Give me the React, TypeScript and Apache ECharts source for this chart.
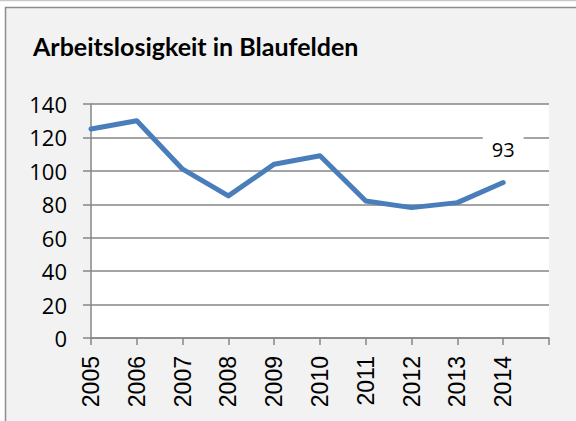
import React, { useEffect, useRef } from "react";
import * as echarts from "echarts";

const years = ["2005", "2006", "2007", "2008", "2009", "2010", "2011", "2012", "2013", "2014", ""];
const values = [125, 130, 101, 85, 104, 109, 82, 78, 81, 93];
const title = "Arbeitslosigkeit in Blaufelden";

export default function App() {
  const ref = useRef<HTMLDivElement>(null);
  useEffect(() => {
    if (!ref.current) return;
    const chart = echarts.init(ref.current, null, { renderer: "svg" });
    const gray = "#868686";
    const last = values.length - 1;
    chart.setOption({
      animation: false,
      backgroundColor: "#ffffff",
      graphic: [
        { type: "line", z: -100, shape: { x1: 0, y1: 0.5, x2: 576, y2: 0.5 }, style: { stroke: "#c8c8c8", lineWidth: 1.5 } },
        { type: "rect", z: -100, shape: { x: 5.5, y: 7.5, width: 620, height: 500 }, style: { fill: "#f2f2f2", stroke: "#8c8c8c", lineWidth: 1.5 } },
      ],
      title: {
        text: title,
        left: 28,
        top: 28,
        textStyle: { fontFamily: "Lato", fontWeight: "bold", fontSize: 25, color: "#000" },
      },
      grid: {
        left: 91,
        top: 104,
        right: 27,
        bottom: 83,
        show: true,
        backgroundColor: "#ffffff",
        borderWidth: 0,
        containLabel: false,
        outerBoundsMode: "none",
      },
      xAxis: {
        type: "category",
        data: years,
        boundaryGap: false,
        axisLine: { show: true, lineStyle: { color: gray, width: 1.5 } },
        axisTick: { show: true, length: 7, interval: 0, lineStyle: { color: gray, width: 1.5 } },
        axisLabel: {
          rotate: 90,
          interval: 0,
          margin: 18,
          fontFamily: "Liberation Sans",
          fontSize: 23,
          color: "#000",
        },
        splitLine: { show: false },
      },
      yAxis: {
        type: "value",
        min: 0,
        max: 140,
        interval: 20,
        axisLine: { show: true, lineStyle: { color: gray, width: 1.5 } },
        axisTick: { show: true, length: 8, lineStyle: { color: gray, width: 1.5 } },
        axisLabel: { margin: 24, fontFamily: "Open Sans", fontSize: 22, color: "#000" },
        splitLine: { show: true, lineStyle: { color: gray, width: 1.5 } },
      },
      series: [
        {
          type: "line",
          data: values.map((v, i) =>
            i === last
              ? {
                  value: v,
                  label: {
                    show: true,
                    position: "top",
                    distance: 18,
                    formatter: "{c}",
                    fontFamily: "Open Sans",
                    fontSize: 20,
                    color: "#000",
                    backgroundColor: "#ffffff",
                    padding: [4, 9, 4, 9],
                  },
                }
              : v
          ),
          showSymbol: true,
          symbol: "circle",
          symbolSize: 2,
          label: { show: false },
          lineStyle: { color: "#4a7ebb", width: 5, cap: "round", join: "round" },
          itemStyle: { color: "rgba(0,0,0,0)", borderWidth: 0 },
        },
      ],
    });
    return () => chart.dispose();
  }, []);
  return <div ref={ref} style={{ position: "fixed", left: 0, top: 0, width: 576, height: 421 }} />;
}
